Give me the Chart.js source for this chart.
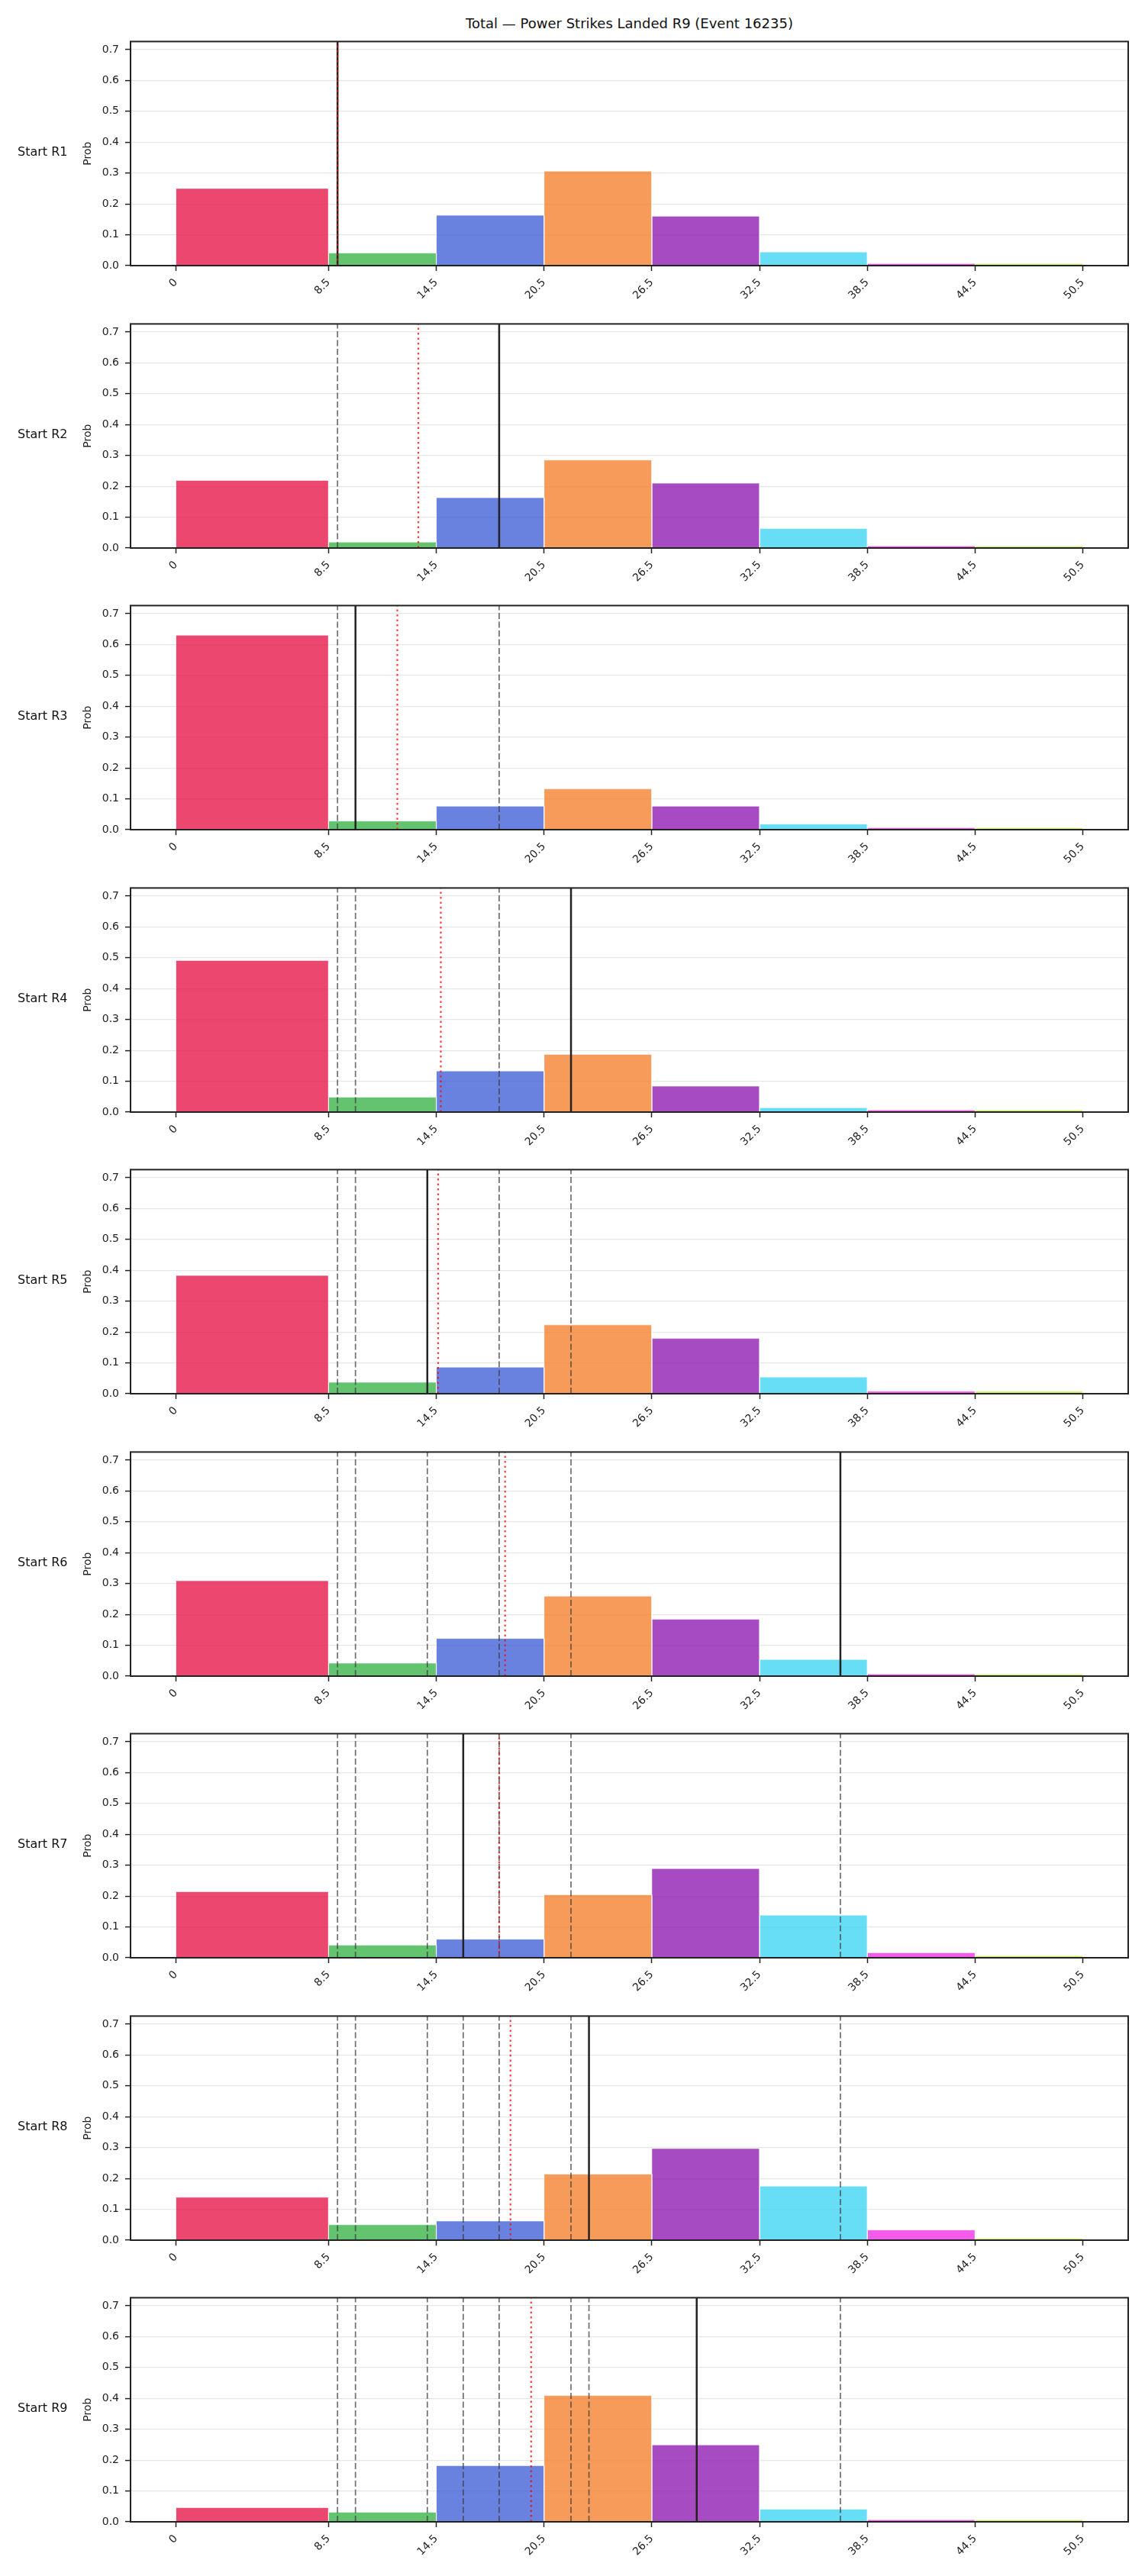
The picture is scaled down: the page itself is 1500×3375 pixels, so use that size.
<!DOCTYPE html>
<html>
<head>
<meta charset="utf-8">
<script src="https://cdn.jsdelivr.net/npm/chart.js@4"></script>
<style>
  body { margin: 0; background: #fff; font-family: 'DejaVu Sans', sans-serif; }
  #page { position: relative; width: 1500px; height: 3375px; }
  .panel { position: absolute; left: 0; width: 1500px; }
  .rowlab { position: absolute; left: 23px; font-size: 16px; line-height: 20px; color: #111; }
  #title { position: absolute; left: 171px; width: 1307px; top: 20px; text-align: center;
           font-size: 18px; line-height: 22px; color: #111; }
</style>
</head>
<body>
<div id="page">
  <div id="title">Total — Power Strikes Landed R9 (Event 16235)</div>
</div>
<script>
// bin edges of the histogram (also the x tick labels)
const binEdges = [0, 8.5, 14.5, 20.5, 26.5, 32.5, 38.5, 44.5, 50.5];
const binColors = [
  'rgba(230,25,75,0.8)', 'rgba(60,180,75,0.8)', 'rgba(67,99,216,0.8)', 'rgba(245,130,49,0.8)',
  'rgba(145,30,180,0.8)', 'rgba(66,212,244,0.8)', 'rgba(240,50,230,0.8)', 'rgba(191,239,69,0.8)'
];
const roundLabels = ['Start R1', 'Start R2', 'Start R3', 'Start R4', 'Start R5',
                     'Start R6', 'Start R7', 'Start R8', 'Start R9'];

// probability per bin, one list per starting round
const probR1 = [0.250, 0.041, 0.163, 0.306, 0.160, 0.044, 0.0065, 0.0065];
const probR2 = [0.219, 0.019, 0.163, 0.285, 0.210, 0.063, 0.0065, 0.0065];
const probR3 = [0.630, 0.028, 0.076, 0.132, 0.076, 0.018, 0.006, 0.006];
const probR4 = [0.491, 0.048, 0.133, 0.187, 0.084, 0.014, 0.0065, 0.0065];
const probR5 = [0.383, 0.037, 0.086, 0.223, 0.179, 0.054, 0.008, 0.008];
const probR6 = [0.309, 0.042, 0.122, 0.259, 0.184, 0.054, 0.007, 0.007];
const probR7 = [0.214, 0.041, 0.060, 0.204, 0.289, 0.138, 0.016, 0.0065];
const probR8 = [0.139, 0.050, 0.062, 0.214, 0.297, 0.175, 0.033, 0.006];
const probR9 = [0.046, 0.031, 0.182, 0.409, 0.249, 0.041, 0.0065, 0.0065];
const roundProbs = [probR1, probR2, probR3, probR4, probR5, probR6, probR7, probR8, probR9];

// black line = value of that round, dashed = earlier rounds, red dotted = running mean
const actualValues = [9, 18, 10, 22, 14, 37, 16, 23, 29];
const meanValues = [9, 13.5, 12.33, 14.75, 14.6, 18.33, 18, 18.63, 19.78];

const X_MIN = -2.525, X_MAX = 53.025, Y_MAX = 0.726;
const PANEL_TOP = 50, PANEL_STEP = 369.5, PLOT_H = 298, PAD_TOP = 12, CANVAS_H = 369;
const FONT = 'DejaVu Sans';

const framePlugin = {
  id: 'frame',
  afterDatasetsDraw(chart) {
    const { ctx, chartArea: a } = chart;
    ctx.save();
    ctx.strokeStyle = '#222';
    ctx.lineWidth = 2;
    ctx.strokeRect(a.left, a.top, a.right - a.left, a.bottom - a.top);
    ctx.restore();
  }
};

function vline(x, color, width, dash, order) {
  return {
    type: 'line', data: [{ x: x, y: 0 }, { x: x, y: Y_MAX }],
    borderColor: color, borderWidth: width, borderDash: dash,
    pointRadius: 0, fill: false, order: order
  };
}

const page = document.getElementById('page');

roundProbs.forEach((probs, k) => {
  const top = Math.round(PANEL_TOP + k * PANEL_STEP);

  const wrap = document.createElement('div');
  wrap.className = 'panel';
  wrap.style.top = (top - PAD_TOP) + 'px';
  wrap.style.height = CANVAS_H + 'px';
  const canvas = document.createElement('canvas');
  wrap.appendChild(canvas);
  page.appendChild(wrap);

  const lab = document.createElement('div');
  lab.className = 'rowlab';
  lab.style.top = (top + PLOT_H / 2 - 10) + 'px';
  lab.textContent = roundLabels[k];
  page.appendChild(lab);

  const datasets = [];
  // histogram bins as filled rectangles
  probs.forEach((p, i) => {
    const x0 = binEdges[i], x1 = binEdges[i + 1];
    datasets.push({
      type: 'line',
      data: [{ x: x0, y: 0 }, { x: x0, y: p }, { x: x1, y: p }, { x: x1, y: 0 }],
      backgroundColor: binColors[i],
      borderColor: 'rgba(255,255,255,0.75)',
      borderWidth: 0.8,
      borderJoinStyle: 'miter',
      pointRadius: 0,
      fill: 'origin',
      order: 10
    });
  });
  // earlier rounds
  for (let j = 0; j < k; j++) {
    datasets.push(vline(actualValues[j], 'rgba(60,60,60,0.7)', 1.8, [8, 3.5], 5));
  }
  datasets.push(vline(actualValues[k], '#222', 2.5, [], 2));
  datasets.push(vline(meanValues[k], 'rgba(255,0,0,0.75)', 2.2, [2.5, 4], 1));

  new Chart(canvas, {
    type: 'line',
    data: { datasets: datasets },
    plugins: [framePlugin],
    options: {
      responsive: true,
      maintainAspectRatio: false,
      animation: false,
      layout: { padding: { top: PAD_TOP, right: 22, left: 0, bottom: 0 } },
      plugins: { legend: { display: false }, tooltip: { enabled: false }, title: { display: false } },
      scales: {
        x: {
          type: 'linear', min: X_MIN, max: X_MAX,
          afterBuildTicks: s => { s.ticks = binEdges.map(v => ({ value: v })); },
          afterFit: s => { s.height = CANVAS_H - PAD_TOP - PLOT_H; },
          grid: { drawOnChartArea: false, drawTicks: true, tickLength: 7, tickColor: '#222', tickWidth: 1.5 },
          border: { display: false },
          ticks: {
            autoSkip: false, minRotation: 45, maxRotation: 45, padding: 7, color: '#222',
            font: { family: FONT, size: 14 }, callback: v => String(v)
          }
        },
        y: {
          min: 0, max: Y_MAX,
          afterFit: s => { s.width = 171; },
          grid: { color: '#e6e6e6', lineWidth: 1.2, tickColor: '#222', tickLength: 7, tickWidth: 1.5 },
          border: { display: false },
          ticks: {
            stepSize: 0.1, includeBounds: false, padding: 8, color: '#222',
            font: { family: FONT, size: 14 }, callback: v => v.toFixed(1)
          },
          title: { display: true, text: 'Prob', color: '#222', font: { family: FONT, size: 14 }, padding: { top: 107, bottom: 0 } }
        }
      }
    }
  });
});
</script>
</body>
</html>
